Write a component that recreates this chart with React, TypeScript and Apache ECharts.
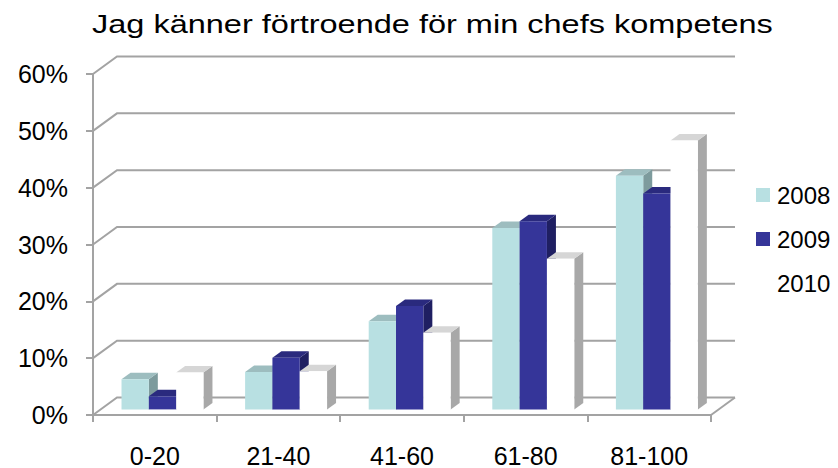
import React, { useEffect, useRef } from "react";
import * as echarts from "echarts";

const title = "Jag känner förtroende för min chefs kompetens";
const categories = ["0-20", "21-40", "41-60", "61-80", "81-100"];
const seriesNames = ["2008", "2009", "2010"];
const values2008 = [5.3, 6.6, 15.5, 31.9, 41.1];
const values2009 = [2.3, 9.1, 18.2, 33.1, 38.0];
const values2010 = [6.5, 6.7, 13.5, 26.5, 47.3];
const yTicks = [0, 10, 20, 30, 40, 50, 60];

const seriesValues = [values2008, values2009, values2010];
const faceColors = [
  { front: "#B8E0E2", top: "#9DBDBF", side: "#7D9B9D" },
  { front: "#353599", top: "#2A2A7E", side: "#1F1F62" },
  { front: "#FFFFFF", top: "#D6D6D6", side: "#A8A8A8" },
];

const FONT = "Liberation Sans, Arial, sans-serif";
const WALL_DX = 24;
const WALL_DY = -17.5;
const BAR_F = 0.32;
const BAR_DX = 9;
const BAR_DY = -6.5;
const BAR_FRAC = 0.221;
const GRID_COLOR = "#A3A3A3";

export default function App() {
  const ref = useRef<HTMLDivElement>(null);

  useEffect(() => {
    if (!ref.current) return;
    const chart = echarts.init(ref.current, undefined, { renderer: "svg" });

    const wallSeries: any = {
      type: "custom",
      name: "wall",
      silent: true,
      z: 1,
      data: yTicks.map((v) => [0, v]),
      renderItem: (params: any, api: any) => {
        const v = api.value(1);
        const band = api.size([1, 0])[0];
        const p0 = api.coord([0, v]);
        const pN = api.coord([categories.length - 1, v]);
        const left = p0[0] - band / 2;
        const right = pN[0] + band / 2;
        const y = p0[1];
        const style = { stroke: GRID_COLOR, lineWidth: 2, fill: "none" };
        const children: any[] = [
          {
            type: "polyline",
            shape: {
              points: [
                [left, y],
                [left + WALL_DX, y + WALL_DY],
                [right + WALL_DX, y + WALL_DY],
              ],
            },
            style,
          },
        ];
        if (v === 0) {
          children.push({
            type: "line",
            shape: { x1: right, y1: y, x2: right + WALL_DX, y2: y + WALL_DY },
            style,
          });
        }
        return { type: "group", children };
      },
    };

    const barSeries = seriesNames.map((name, s) => ({
      type: "custom",
      name,
      z: 2 + s,
      itemStyle: { color: faceColors[s].front },
      data: seriesValues[s].map((v, i) => [i, v]),
      renderItem: (params: any, api: any) => {
        const i = api.value(0);
        const v = api.value(1);
        const band = api.size([1, 0])[0];
        const barW = band * BAR_FRAC;
        const top = api.coord([i, v]);
        const base = api.coord([i, 0]);
        const x0 = top[0] - 1.5 * barW + s * barW + WALL_DX * BAR_F;
        const x1 = x0 + barW;
        const ty = top[1] + WALL_DY * BAR_F;
        const by = base[1] + WALL_DY * BAR_F;
        const c = faceColors[s];
        return {
          type: "group",
          children: [
            {
              type: "polygon",
              shape: {
                points: [
                  [x1, ty],
                  [x1 + BAR_DX, ty + BAR_DY],
                  [x1 + BAR_DX, by + BAR_DY],
                  [x1, by],
                ],
              },
              style: { fill: c.side },
            },
            {
              type: "polygon",
              shape: {
                points: [
                  [x0, ty],
                  [x1, ty],
                  [x1 + BAR_DX, ty + BAR_DY],
                  [x0 + BAR_DX, ty + BAR_DY],
                ],
              },
              style: { fill: c.top },
            },
            {
              type: "rect",
              shape: { x: x0, y: ty, width: barW, height: by - ty },
              style: { fill: c.front },
            },
          ],
        };
      },
    }));

    chart.setOption({
      animation: false,
      backgroundColor: "#FFFFFF",
      graphic: [
        {
          type: "text",
          x: 92,
          y: 24,
          scaleX: 1.25,
          style: {
            text: title,
            fontFamily: FONT,
            fontSize: 26,
            fill: "#000000",
            align: "left",
            verticalAlign: "middle",
          },
        },
      ],
      legend: {
        data: seriesNames,
        orient: "vertical",
        left: 756,
        top: 183,
        itemWidth: 14,
        itemHeight: 14,
        itemGap: 20,
        icon: "rect",
        padding: 0,
        textStyle: {
          fontFamily: FONT,
          fontSize: 24,
          color: "#000000",
          padding: [0, 0, 0, 2],
        },
      },
      grid: {
        left: 93,
        right: 838 - 711,
        top: 74,
        bottom: 468 - 415.6,
        containLabel: false,
      },
      xAxis: {
        type: "category",
        data: categories,
        boundaryGap: true,
        axisLine: { show: true, lineStyle: { color: GRID_COLOR, width: 2 } },
        axisTick: { show: true, length: 7, lineStyle: { color: GRID_COLOR, width: 2 } },
        axisLabel: {
          margin: 28,
          fontFamily: FONT,
          fontSize: 25,
          color: "#000000",
        },
        splitLine: { show: false },
      },
      yAxis: {
        type: "value",
        min: 0,
        max: 60,
        interval: 10,
        axisLine: { show: true, lineStyle: { color: GRID_COLOR, width: 2 } },
        axisTick: { show: true, length: 7, lineStyle: { color: GRID_COLOR, width: 2 } },
        axisLabel: {
          margin: 25,
          formatter: "{value}%",
          fontFamily: FONT,
          fontSize: 25,
          color: "#000000",
        },
        splitLine: { show: false },
      },
      series: [wallSeries, ...barSeries],
    });

    return () => chart.dispose();
  }, []);

  return (
    <div
      ref={ref}
      style={{ position: "fixed", left: 0, top: 0, width: 838, height: 468 }}
    />
  );
}
